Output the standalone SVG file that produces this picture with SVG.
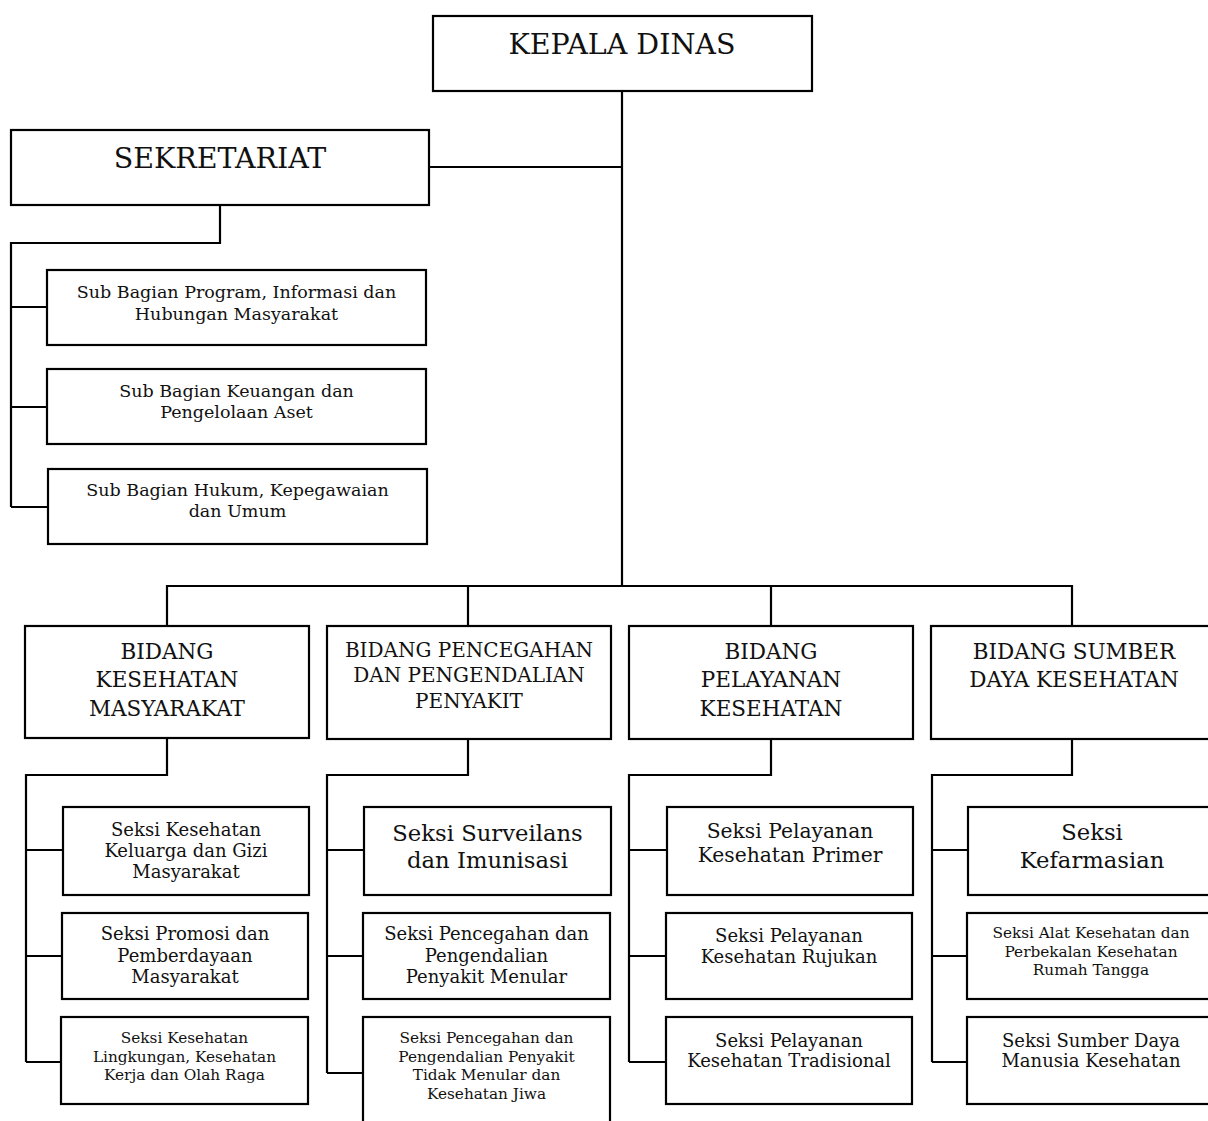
<svg xmlns="http://www.w3.org/2000/svg" width="1208" height="1121" viewBox="0 0 1208 1121">
<style>
rect{fill:#fff;stroke:#000;stroke-width:2.2}
.c{fill:none;stroke:#000;stroke-width:2.2}
text{font-family:"DejaVu Serif","Liberation Serif",serif;fill:#111;text-anchor:middle}
.h{font-size:28.5px}
.b{font-size:21.5px}
.b2{font-size:20px}
.s{font-size:17.5px}
.m{font-size:18px}
.l{font-size:22.7px}
.p{font-size:20.3px}
.t{font-size:15.3px}
</style>
<rect x="0" y="0" width="1208" height="1121" style="stroke:none"/>
<g id="connectors">
<path class="c" d="M622 91V586M429 167H622M220 205V243H11V507M11 307H47M11 407H47M11 507H48"/>
<path class="c" d="M167 626V586H1072V626M468 586V626M771 586V626"/>
<path class="c" d="M167 738V775H26V1062M26 850H63M26 956H62M26 1062H61"/>
<path class="c" d="M468 739V775H327V1073M327 850H364M327 956H363M327 1073H363"/>
<path class="c" d="M771 739V775H629V1062M629 850H667M629 956H666M629 1062H666"/>
<path class="c" d="M1072 739V775H932V1062M932 850H968M932 956H967M932 1062H967"/>
</g>
<g id="kepala"><rect x="433" y="16" width="379" height="75"/><text class="h" x="622" y="54">KEPALA DINAS</text></g>
<g id="sekretariat"><rect x="11" y="130" width="418" height="75"/><text class="h" x="220" y="168">SEKRETARIAT</text></g>
<g id="sub1"><rect x="47" y="270" width="379" height="75"/><text class="s" x="236.5" y="298">Sub Bagian Program, Informasi dan</text><text class="s" x="236.5" y="320">Hubungan Masyarakat</text></g>
<g id="sub2"><rect x="47" y="369" width="379" height="75"/><text class="s" x="236.5" y="397">Sub Bagian Keuangan dan</text><text class="s" x="236.5" y="418">Pengelolaan Aset</text></g>
<g id="sub3"><rect x="48" y="469" width="379" height="75"/><text class="s" x="237.5" y="496">Sub Bagian Hukum, Kepegawaian</text><text class="s" x="237.5" y="517">dan Umum</text></g>
<g id="bidang1"><rect x="25" y="626" width="284" height="112"/><text class="b" x="167" y="659">BIDANG</text><text class="b" x="167" y="687">KESEHATAN</text><text class="b" x="167" y="716">MASYARAKAT</text></g>
<g id="bidang2"><rect x="327" y="626" width="284" height="113"/><text class="b2" x="469" y="657">BIDANG PENCEGAHAN</text><text class="b2" x="469" y="682">DAN PENGENDALIAN</text><text class="b2" x="469" y="708">PENYAKIT</text></g>
<g id="bidang3"><rect x="629" y="626" width="284" height="113"/><text class="b" x="771" y="659">BIDANG</text><text class="b" x="771" y="687">PELAYANAN</text><text class="b" x="771" y="716">KESEHATAN</text></g>
<g id="bidang4"><rect x="931" y="626" width="286" height="113"/><text class="b" x="1074" y="659">BIDANG SUMBER</text><text class="b" x="1074" y="687">DAYA KESEHATAN</text></g>
<g id="seksi1a"><rect x="63" y="807" width="246" height="88"/><text class="m" x="186" y="836">Seksi Kesehatan</text><text class="m" x="186" y="857">Keluarga dan Gizi</text><text class="m" x="186" y="878">Masyarakat</text></g>
<g id="seksi1b"><rect x="62" y="913" width="246" height="86"/><text class="m" x="185" y="940">Seksi Promosi dan</text><text class="m" x="185" y="962">Pemberdayaan</text><text class="m" x="185" y="983">Masyarakat</text></g>
<g id="seksi1c"><rect x="61" y="1017" width="247" height="87"/><text class="t" x="184.5" y="1043">Seksi Kesehatan</text><text class="t" x="184.5" y="1062">Lingkungan, Kesehatan</text><text class="t" x="184.5" y="1080">Kerja dan Olah Raga</text></g>
<g id="seksi2a"><rect x="364" y="807" width="247" height="88"/><text class="l" x="487.5" y="841">Seksi Surveilans</text><text class="l" x="487.5" y="868">dan Imunisasi</text></g>
<g id="seksi2b"><rect x="363" y="913" width="247" height="86"/><text class="m" x="486.5" y="940">Seksi Pencegahan dan</text><text class="m" x="486.5" y="962">Pengendalian</text><text class="m" x="486.5" y="983">Penyakit Menular</text></g>
<g id="seksi2c"><rect x="363" y="1017" width="247" height="115"/><text class="t" x="486.5" y="1043">Seksi Pencegahan dan</text><text class="t" x="486.5" y="1062">Pengendalian Penyakit</text><text class="t" x="486.5" y="1080">Tidak Menular dan</text><text class="t" x="486.5" y="1099">Kesehatan Jiwa</text></g>
<g id="seksi3a"><rect x="667" y="807" width="246" height="88"/><text class="p" x="790" y="838">Seksi Pelayanan</text><text class="p" x="790" y="862">Kesehatan Primer</text></g>
<g id="seksi3b"><rect x="666" y="913" width="246" height="86"/><text class="m" x="789" y="942">Seksi Pelayanan</text><text class="m" x="789" y="963">Kesehatan Rujukan</text></g>
<g id="seksi3c"><rect x="666" y="1017" width="246" height="87"/><text class="m" x="789" y="1047">Seksi Pelayanan</text><text class="m" x="789" y="1067">Kesehatan Tradisional</text></g>
<g id="seksi4a"><rect x="968" y="807" width="250" height="88"/><text class="l" x="1092" y="840">Seksi</text><text class="l" x="1092" y="868">Kefarmasian</text></g>
<g id="seksi4b"><rect x="967" y="913" width="250" height="86"/><text class="t" x="1091" y="938">Seksi Alat Kesehatan dan</text><text class="t" x="1091" y="957">Perbekalan Kesehatan</text><text class="t" x="1091" y="975">Rumah Tangga</text></g>
<g id="seksi4c"><rect x="967" y="1017" width="250" height="87"/><text class="m" x="1091" y="1047">Seksi Sumber Daya</text><text class="m" x="1091" y="1067">Manusia Kesehatan</text></g>
</svg>
